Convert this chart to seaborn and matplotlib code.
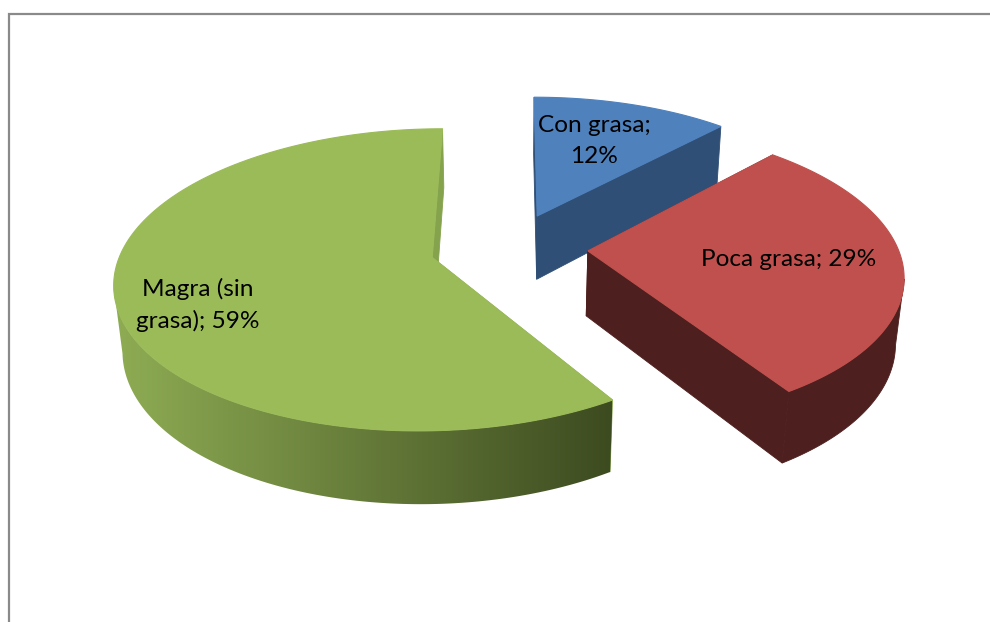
import numpy as np
import matplotlib
matplotlib.use("Agg")
import matplotlib.pyplot as plt
from matplotlib.colors import LinearSegmentedColormap
from matplotlib.patches import Polygon
import seaborn as sns

# Fat content of the products, in percent, clockwise from twelve o'clock
categories = ["Con grasa", "Poca grasa", "Magra (sin grasa)"]
shares = [12, 29, 59]
label_texts = ["Con grasa;\n12%", "Poca grasa; 29%", "Magra (sin\ngrasa); 59%"]

top_colors = ["#4F81BD", "#C0504D", "#9BBB59"]
cut_colors = ["#2F4F76", "#4D1F1E", "#85A24C"]
rim_colors = ["#2F4F76", "#4D1F1E", None]
rim_ramp = ["#8FAD54", "#3D4B20"]

# Perspective camera for the exploded pie
VANISH_X, APEX_Y = 512.0, 259.0
RADIUS_X, RADIUS_Y = 313.5, 148.2
DEPTH = 67.0
PERSP_BACK, PERSP_DOWN = 0.1485, 0.022
EXPLODE_X, EXPLODE_Y = 0.255, 0.242
CENTER_X, CENTER_Y = -0.010, 0.078


def project(x, y, z):
    """Map pie-plane coordinates (unit radius) and depth (0 top, 1 bottom) to the canvas."""
    x, y = np.asarray(x, float) + CENTER_X, np.asarray(y, float) + CENTER_Y
    s = 1.0 / (1.0 + PERSP_BACK * y + PERSP_DOWN * z)
    return VANISH_X + RADIUS_X * x * s, APEX_Y - RADIUS_Y * y * s + DEPTH * z * s ** 1.1


sns.set_theme(style="white")
plt.rcParams["font.family"] = ["Lato", "DejaVu Sans"]

fig = plt.figure(figsize=(9.9, 6.22), dpi=100, facecolor="white")
ax = fig.add_axes([0, 0, 1, 1])
ax.axis("off")

# Chart frame: only the top and left edges fall inside the canvas
ax.plot([9, 9, 990], [622, 14, 14], color="#8A8A8A", lw=1.6, solid_joinstyle="miter")

fractions = np.array(shares, float) / sum(shares)
edges = np.concatenate([[0], np.cumsum(fractions)]) * 2 * np.pi


def wall_outline(xs, ys):
    top_x, top_y = project(xs, ys, 0)
    low_x, low_y = project(xs, ys, 1)
    return np.column_stack([np.r_[top_x, low_x[::-1]], np.r_[top_y, low_y[::-1]]])


# Slices are painted back to front: blue, green, red
for order, i in zip((2, 3, 4), (0, 2, 1)):
    mid = (edges[i] + edges[i + 1]) / 2
    ox, oy = EXPLODE_X * np.sin(mid), EXPLODE_Y * np.cos(mid)
    theta = np.linspace(edges[i], edges[i + 1], 400)
    xs, ys = ox + np.sin(theta), oy + np.cos(theta)
    z = order * 10

    # Flat faces left by the cut, where the camera can see them
    for end_x, end_y in ((xs[0], ys[0]), (xs[-1], ys[-1])):
        face = wall_outline(np.array([ox, end_x]), np.array([oy, end_y]))
        ax.add_patch(Polygon(face, closed=True, fc=cut_colors[i], ec=cut_colors[i],
                             lw=0.6, zorder=z))

    # The outer wall only shows along the front of the arc, between its
    # rightmost and leftmost points on the canvas
    front = np.gradient(project(xs, ys, 0)[0]) <= 0
    if front.any():
        outline = wall_outline(xs[front], ys[front])
        if rim_colors[i] is None:
            # Shaded from left to right on the green slice
            clip = Polygon(outline, closed=True, transform=ax.transData,
                           fc="none", ec="none")
            cmap = LinearSegmentedColormap.from_list("wall", sns.blend_palette(rim_ramp, 256))
            image = ax.imshow(np.linspace(0, 1, 256)[None, :], cmap=cmap, aspect="auto",
                              extent=(110, 612, 510, 270), interpolation="bilinear",
                              zorder=z + 2)
            image.set_clip_path(clip)
        else:
            ax.add_patch(Polygon(outline, closed=True, fc=rim_colors[i],
                                 ec=rim_colors[i], lw=0.6, zorder=z + 2))

    # Top surface, with a hairline of its own colour over the walls behind it
    px, py = project(np.r_[ox, xs], np.r_[oy, ys], 0)
    ax.fill(px, py, fc=top_colors[i], ec=top_colors[i], lw=0.8, zorder=z + 3)

ax.set_xlim(0, 990)
ax.set_ylim(622, 0)

label_spots = [(594, 141), (789, 260), (198, 305)]
for text, (lx, ly) in zip(label_texts, label_spots):
    ax.text(lx, ly, text, ha="center", va="center", fontsize=17.6, color="black",
            linespacing=1.53, zorder=100)

fig.savefig("out.png", dpi=100, facecolor="white")
